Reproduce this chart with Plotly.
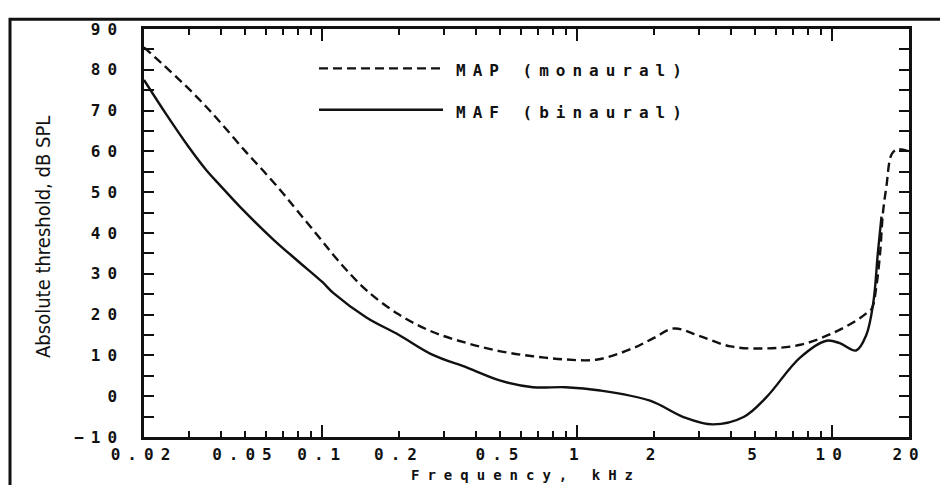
import math
import plotly.graph_objects as go

# ---------------- data ----------------
freq_map = [0.02, 0.025, 0.03, 0.035, 0.04, 0.05, 0.06, 0.07, 0.08, 0.1, 0.111, 0.125, 0.15,
            0.2, 0.27, 0.37, 0.5, 0.67, 0.9, 1.2, 1.66, 2.0, 2.4, 3.0, 4.0, 5.5, 7.5, 10,
            12.4, 13.6, 14.3, 14.9, 15.4, 15.8, 16.3, 17.1, 18, 20]
map_db = [85.5, 80.0, 75.3, 71.0, 67.0, 60.0, 54.6, 49.8, 45.4, 38.0, 34.5, 30.8, 25.8,
          20.0, 15.8, 13.0, 11.0, 9.8, 9.0, 9.0, 11.8, 14.3, 16.6, 14.8, 12.2, 11.7, 12.6, 15.4,
          18.5, 20.3, 21.5, 27.0, 35.0, 44.8, 51.3, 59.3, 60.5, 60.0]

freq_maf = [0.02, 0.0245, 0.03, 0.035, 0.04, 0.0476, 0.0643, 0.08, 0.1, 0.111, 0.149, 0.2,
            0.27, 0.37, 0.5, 0.67, 0.9, 1.23, 1.93, 2.61, 3.4, 4.49, 5.51, 7.46, 9.5, 10.7,
            12.4, 13.6, 14.5, 15.1, 15.6]
maf_db = [77.5, 69.0, 61.0, 55.5, 51.5, 46.4, 38.4, 33.2, 28.0, 25.2, 19.3, 15.0,
          10.2, 7.0, 3.8, 2.2, 2.2, 1.4, -1.1, -5.1, -6.9, -5.1, -0.3, 9.4, 13.6, 13.0,
          11.2, 15.0, 23.1, 35.2, 44.0]

x_label_vals = [0.02, 0.05, 0.1, 0.2, 0.5, 1, 2, 5, 10, 20]
x_label_text = ["0.02", "0.05", "0.1", "0.2", "0.5", "1", "2", "5", "10", "20"]
x_minor_vals = [0.03, 0.04, 0.05, 0.06, 0.07, 0.08, 0.09,
                0.2, 0.3, 0.4, 0.5, 0.6, 0.7, 0.8, 0.9,
                2, 3, 4, 5, 6, 7, 8, 9]
x_major_vals = [0.1, 1, 10]
y_tick_vals = list(range(-10, 95, 5))
y_label_text = ["−10", "0", "10", "20", "30", "40", "50", "60", "70", "80", "90"]

series_names = ["MAP (monaural)", "MAF (binaural)"]
x_title = "Frequency, kHz"
y_title = "Absolute threshold, dB SPL"

# ---------------- styling ----------------
OFF = 8                      # page body margin in the browser
W, H = 948 - OFF, 485 - OFF  # figure size so that it fits in the window
# plot area in window pixels: x 144..909, y 23..437
L, T = 144 - OFF, 23 - OFF
R, B = W - (909 - OFF), H - (437 - OFF)
PW, PH = W - L - R, H - T - B
MONO = "DejaVu Sans Mono"
SPACING = 7
INK = "#111111"


def sp(t, s=SPACING):
    return f'<span style="letter-spacing:{s}px">{t}</span>' if t else ""


def px(xw):
    """window x pixel -> paper fraction"""
    return (xw - OFF - L) / PW


def py(yw):
    """window y pixel -> paper fraction"""
    return (H - B - (yw - OFF)) / PH


all_x_ticks = sorted(set(x_label_vals + x_minor_vals))
all_x_text = [sp(x_label_text[x_label_vals.index(v)]) if v in x_label_vals else "" for v in all_x_ticks]
y_text = [sp(y_label_text[(v + 10) // 10]) if v % 10 == 0 else "" for v in y_tick_vals]

fig = go.Figure()
fig.add_trace(go.Scatter(x=freq_map, y=map_db, mode="lines", name=series_names[0],
                         line=dict(color=INK, width=2.4, dash="9px,5px", shape="spline", smoothing=1.0),
                         showlegend=False))
fig.add_trace(go.Scatter(x=freq_maf, y=maf_db, mode="lines", name=series_names[1],
                         line=dict(color=INK, width=2.4, shape="spline", smoothing=1.0),
                         showlegend=False))
fig.add_trace(go.Scatter(x=[], y=[], xaxis="x2", yaxis="y", showlegend=False, hoverinfo="skip"))

xr = [math.log10(0.02), math.log10(20)]
tickfont = dict(family=MONO, size=16, color=INK, weight="bold")
titlefont = dict(family=MONO, size=14, color=INK, weight="bold")

fig.update_layout(
    width=W, height=H, autosize=False,
    margin=dict(l=L, r=R, t=T, b=B, pad=0),
    paper_bgcolor="white", plot_bgcolor="white",
    xaxis=dict(type="log", range=xr, showgrid=False, zeroline=False,
               showline=True, linecolor=INK, linewidth=2.5, mirror="ticks",
               tickmode="array", tickvals=all_x_ticks, ticktext=all_x_text,
               ticks="inside", ticklen=6, tickwidth=2, tickcolor=INK,
               tickfont=tickfont, ticklabelstandoff=1),
    xaxis2=dict(type="log", range=xr, overlaying="x", anchor="y", side="bottom",
                showgrid=False, zeroline=False, showline=False, mirror="ticks",
                tickmode="array", tickvals=x_major_vals, ticks="inside", ticklen=12,
                tickwidth=2, tickcolor=INK, showticklabels=False),
    yaxis=dict(range=[-10, 90], showgrid=False, zeroline=False,
               showline=True, linecolor=INK, linewidth=2.5, mirror="ticks",
               tickmode="array", tickvals=y_tick_vals, ticktext=y_text,
               ticks="inside", ticklen=10, tickwidth=2, tickcolor=INK,
               tickfont=tickfont, ticklabelstandoff=14),
)

# outer frame (runs off the right and bottom edges, as in the reference)
fig.add_shape(type="rect", xref="paper", yref="paper",
              x0=px(10), x1=px(975), y0=py(500), y1=py(13),
              line=dict(color=INK, width=3), fillcolor="rgba(0,0,0,0)", layer="above")

# legend key
fig.add_shape(type="line", xref="paper", yref="paper", x0=px(319), x1=px(443), y0=py(63), y1=py(63),
              line=dict(color=INK, width=2.4, dash="9px,5px"))
fig.add_shape(type="line", xref="paper", yref="paper", x0=px(319), x1=px(443), y0=py(105), y1=py(105),
              line=dict(color=INK, width=2.4))
fig.add_annotation(xref="paper", yref="paper", x=px(454), y=py(65), xanchor="left", yanchor="middle",
                   text=sp(series_names[0]), showarrow=False, font=tickfont)
fig.add_annotation(xref="paper", yref="paper", x=px(454), y=py(108), xanchor="left", yanchor="middle",
                   text=sp(series_names[1]), showarrow=False, font=tickfont)

# axis titles
fig.add_annotation(xref="paper", yref="paper", x=px(526), y=py(485), xanchor="center", yanchor="bottom",
                   text=sp(x_title, 8), showarrow=False, font=titlefont, borderpad=0)
fig.add_annotation(xref="paper", yref="paper", x=px(43), y=py(234), xanchor="center", yanchor="middle",
                   textangle=-90, text=y_title, showarrow=False,
                   font=dict(family="Liberation Sans Narrow, DejaVu Sans Condensed, Roboto Condensed, Noto Sans",
                             size=20, color=INK))

fig.write_html("out.html")
